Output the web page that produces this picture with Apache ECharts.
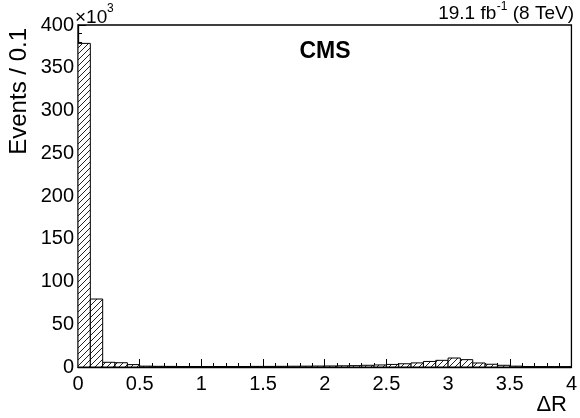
<!DOCTYPE html>
<html>
<head>
<meta charset="utf-8">
<script src="https://cdn.jsdelivr.net/npm/echarts@6/dist/echarts.min.js"></script>
<style>
html,body{margin:0;padding:0;background:#fff;}
#c{width:580px;height:418px;}
</style>
</head>
<body>
<div id="c"></div>
<script>
// Bin lower edges of ΔR (bin width 0.1)
const binWidth = 0.1;
const binStarts = [0.0,0.1,0.2,0.3,0.4,0.5,0.6,0.7,0.8,0.9,1.0,1.1,1.2,1.3,1.4,1.5,1.6,1.7,1.8,1.9,
                   2.0,2.1,2.2,2.3,2.4,2.5,2.6,2.7,2.8,2.9,3.0,3.1,3.2,3.3,3.4,3.5,3.6,3.7,3.8,3.9];
// Events per bin, in units of 10^3
const events = [378.5,79.5,5.5,5.0,2.8,1.0,0.8,0.7,0.6,0.6,0.6,0.6,0.6,0.6,0.7,0.7,0.8,0.9,1.0,1.1,
                1.2,1.4,1.6,2.0,2.4,3.0,3.8,4.8,6.5,7.8,10.5,8.6,4.7,3.2,2.0,1.0,0.6,0.4,0.3,0.2];
const xTicks = [0,0.5,1,1.5,2,2.5,3,3.5,4];
const yTicks = [0,50,100,150,200,250,300,350,400];

// hatch pattern
const pc = document.createElement('canvas');
pc.width = 6; pc.height = 6;
const pctx = pc.getContext('2d');
pctx.fillStyle = '#fff';
pctx.fillRect(0,0,6,6);
pctx.strokeStyle = '#222';
pctx.lineWidth = 1;
pctx.beginPath();
pctx.moveTo(0,6); pctx.lineTo(6,0);
pctx.moveTo(-3,3); pctx.lineTo(3,-3);
pctx.moveTo(3,9); pctx.lineTo(9,3);
pctx.stroke();

const font = 'Liberation Sans, Arial, sans-serif';
const mc = document.createElement('canvas').getContext('2d');
function tw(t, f){ mc.font = f; return mc.measureText(t).width; }

// top-right luminosity label layout
const fMain = '19px ' + font, fSup = '12px ' + font;
const rightEdge = 574;
const wTeV = tw('(8 TeV)', fMain);
const wSp = tw(' ', fMain);
const wSup = tw('-1', fSup);
const xSupEnd = rightEdge - wTeV - wSp;
const xSupStart = xSupEnd - wSup;

const chart = echarts.init(document.getElementById('c'), null, {renderer:'canvas'});
const data = binStarts.map((x,i)=>[x, events[i]]);

chart.setOption({
  animation:false,
  grid:{left:78,right:7,top:25,bottom:51,show:true,borderColor:'#000',borderWidth:1.3,backgroundColor:'transparent'},
  xAxis:{
    type:'value', min:xTicks[0], max:xTicks[xTicks.length-1], interval:0.5,
    axisLine:{show:true,onZero:false,lineStyle:{color:'#000',width:1.3}},
    axisTick:{show:true,inside:true,length:8,lineStyle:{color:'#000'}},
    minorTick:{show:true,splitNumber:5,length:4,lineStyle:{color:'#000'}},
    splitLine:{show:false},
    axisLabel:{color:'#000',fontSize:20,fontFamily:font,margin:7,
      formatter:v=>String(v)}
  },
  yAxis:{
    type:'value', min:yTicks[0], max:yTicks[yTicks.length-1], interval:50,
    axisLine:{show:true,lineStyle:{color:'#000',width:1.3}},
    axisTick:{show:true,inside:true,length:8,lineStyle:{color:'#000'}},
    minorTick:{show:true,splitNumber:5,length:4,lineStyle:{color:'#000'}},
    splitLine:{show:false},
    axisLabel:{color:'#000',fontSize:20,fontFamily:font,margin:4}
  },
  series:[{
    type:'custom',
    data:data,
    clip:true,
    renderItem:function(params, api){
      const x0 = api.value(0), v = api.value(1);
      const p0 = api.coord([x0, 0]);
      const p1 = api.coord([x0 + binWidth, v]);
      return {
        type:'rect',
        shape:{x:p0[0], y:p1[1], width:p1[0]-p0[0], height:p0[1]-p1[1]},
        style:{fill:{image:pc, repeat:'repeat'}, stroke:'#000', lineWidth:1}
      };
    }
  }],
  graphic:[
    {type:'text', x:75, y:8, style:{text:'×10', font:'19px '+font, fill:'#000'}},
    {type:'text', x:107, y:3, style:{text:'3', font:'12px '+font, fill:'#000'}},
    {type:'text', x:xSupStart - 0.5, y:4, style:{text:'19.1 fb', font:fMain, fill:'#000', align:'right'}},
    {type:'text', x:xSupStart, y:1, style:{text:'-1', font:fSup, fill:'#000'}},
    {type:'text', x:rightEdge, y:4, style:{text:'(8 TeV)', font:fMain, fill:'#000', align:'right'}},
    {type:'text', x:325, y:40, style:{text:'CMS', font:'bold 23px '+font, fill:'#000', align:'center'}},
    {type:'text', x:7, y:28, rotation:Math.PI/2, style:{text:'Events / 0.1', font:'24px '+font, fill:'#000', align:'right', verticalAlign:'top'}},
    {type:'text', x:567, y:394, style:{text:'ΔR', font:'22px '+font, fill:'#000', align:'right'}}
  ]
});
</script>
</body>
</html>
